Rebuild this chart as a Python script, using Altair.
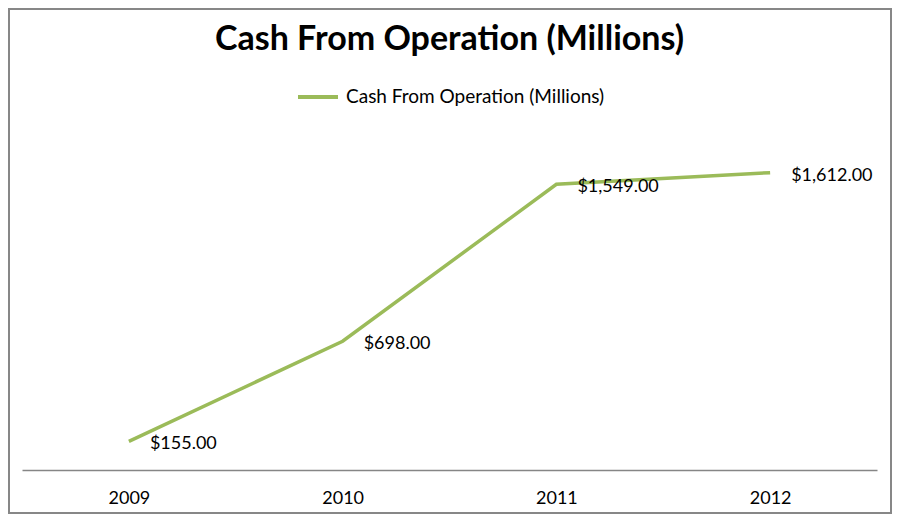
import altair as alt
import pandas as pd

years = ["2009", "2010", "2011", "2012"]
cash = [155.00, 698.00, 1549.00, 1612.00]
series_name = "Cash From Operation (Millions)"
chart_title = "Cash From Operation (Millions)"
labels = ["$155.00", "$698.00", "$1,549.00", "$1,612.00"]

df = pd.DataFrame({"year": years, "cash": cash, "series": [series_name] * len(years), "label": labels})

FONT = "Lato"
GREEN = "#9BBB59"

x_enc = alt.X(
    "year:N",
    title=None,
    sort=years,
    scale=alt.Scale(type="point", padding=0.5),
    axis=alt.Axis(
        domain=True, domainColor="#868686", domainWidth=1.5, ticks=False, grid=False,
        labelAngle=0, labelFontSize=18, labelFont=FONT, labelColor="black", labelPadding=19,
    ),
)
y_enc = alt.Y("cash:Q", axis=None, scale=alt.Scale(domain=[0, 1800], nice=False, zero=True))

line = alt.Chart(df).mark_line(strokeWidth=3.5).encode(
    x=x_enc,
    y=y_enc,
    color=alt.Color(
        "series:N",
        scale=alt.Scale(range=[GREEN]),
        legend=alt.Legend(
            title=None, orient="none", legendX=274, legendY=-63,
            symbolType="stroke", symbolSize=1600, symbolStrokeWidth=4,
            labelFontSize=19, labelFont=FONT, labelColor="black", labelOffset=6,
            labelLimit=400,
        ),
    ),
)

text = alt.Chart(df).mark_text(
    align="left", baseline="middle", dx=21, dy=3, fontSize=18, font=FONT, color="black"
).encode(x=x_enc, y=y_enc, text="label:N")

title_mark = alt.Chart(pd.DataFrame({"t": [chart_title]})).mark_text(
    align="center", baseline="alphabetic", fontSize=34, font=FONT, fontWeight="bold", color="black"
).encode(x=alt.value(427.5), y=alt.value(-88), text="t:N")

border = alt.Chart(pd.DataFrame({"a": [0]})).mark_rect(
    fill=None, stroke="#878787", strokeWidth=2
).encode(x=alt.value(-13), x2=alt.value(869), y=alt.value(-129), y2=alt.value(375))

chart = alt.layer(border, title_mark, line, text).properties(
    width=855,
    height=332,
    autosize=alt.AutoSizeParams(type="none"),
    padding={"left": 14, "top": 130, "right": 15, "bottom": 45},
).configure(background="white", view=alt.ViewConfig(stroke=None))

chart.save("out.html", embed_options={"renderer": "svg", "actions": False})
